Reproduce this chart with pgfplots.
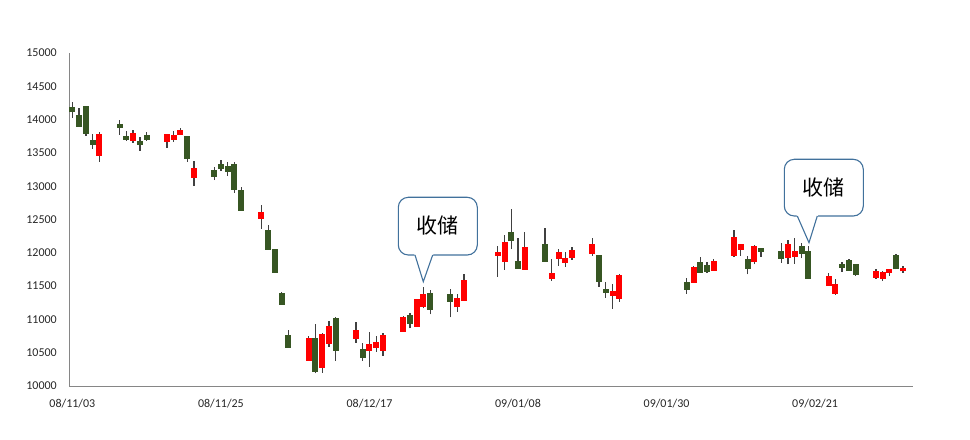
\documentclass[border=0pt]{standalone}
\usepackage{pgfplots}
\pgfplotsset{compat=1.18}
\usepackage{pgfplotstable}
\usepackage{fontspec}
\setmainfont{Carlito}
\newfontfamily\cjk{Noto Sans CJK SC}
\definecolor{upred}{HTML}{FF0000}
\definecolor{dngreen}{HTML}{375623}
\definecolor{wickc}{HTML}{404040}
\definecolor{axisc}{HTML}{868686}
\definecolor{callc}{HTML}{41719C}

% x = trading day (days since 2008-11-03), bl/bh = body low/high, wl/wh = wick low/high
\pgfplotstableread{
x bl bh wl wh
4 13458 13784 13368 13809
9 13683 13799 13653 13839
14 13668 13784 13578 13784
15 13698 13769 13668 13824
16 13773 13844 13773 13874
18 13128 13273 13003 13378
28 12512 12613 12362 12718
35 10380 10725 10380 10755
37 10275 10781 10200 10791
38 10631 10901 10590 10976
42 10710 10841 10650 10956
44 10530 10631 10290 10806
45 10575 10661 10515 10751
46 10530 10766 10455 10791
49 10815 11036 10815 11051
51 10890 11306 10890 11306
52 11186 11381 11167 11482
57 11182 11326 11116 11377
58 11281 11592 11281 11677
63 11956 12012 11641 12102
64 11866 12162 11742 12267
67 11742 12087 11742 12308
71 11607 11697 11581 11902
72 11907 12012 11806 12053
73 11851 11922 11791 12012
74 11926 12042 11896 12087
77 11986 12132 11956 12222
80 11356 11426 11161 11527
81 11311 11667 11266 11682
92 11551 11787 11551 11802
95 11731 11877 11731 11907
98 11956 12233 11941 12342
99 12047 12132 11956 12132
101 11866 12102 11827 12117
106 11926 12132 11827 12192
107 11941 12027 11836 12218
112 11506 11652 11506 11701
113 11386 11532 11371 11611
119 11626 11727 11607 11757
120 11611 11707 11581 11722
121 11701 11757 11656 11757
123 11722 11776 11701 11797
}\redT

\pgfplotstableread{
x bl bh wl wh
0 14119 14189 14029 14260
1 13893 14069 13893 14170
2 13788 14204 13758 14204
3 13623 13694 13563 13779
7 13878 13934 13769 13994
8 13698 13754 13683 13824
10 13623 13679 13533 13739
11 13698 13769 13683 13809
17 13413 13754 13368 13754
21 13143 13243 13093 13288
22 13258 13333 13228 13389
23 13218 13303 13153 13363
24 12947 13333 12902 13363
25 12632 12943 12632 12983
29 12047 12342 12047 12417
30 11701 12057 11701 12057
31 11221 11396 11221 11411
32 10575 10766 10575 10841
36 10215 10721 10191 10926
39 10530 11021 10380 11041
43 10425 10551 10380 10650
50 10935 11066 10866 11092
53 11146 11396 11077 11441
56 11266 11381 11032 11456
65 12177 12312 12057 12658
66 11757 11877 11757 12218
70 11866 12132 11866 12372
78 11566 11967 11491 11967
79 11401 11456 11326 11557
91 11446 11562 11386 11617
93 11701 11862 11701 11932
94 11716 11817 11701 11857
100 11761 11911 11677 11952
102 12017 12072 11941 12072
105 11911 12027 11851 12143
108 11986 12102 11917 12152
109 11611 12027 11611 12107
114 11776 11832 11712 11862
115 11731 11896 11731 11911
116 11667 11832 11652 11832
122 11752 11967 11752 11977
}\greenT

\begin{document}
\begin{tikzpicture}
\useasboundingbox (0bp,0bp) rectangle (970bp,440bp);
\begin{axis}[
  at={(69bp,54bp)}, anchor=south west, scale only axis,
  width=844bp, height=333bp,
  xmin=-0.5, xmax=124.5, ymin=10000, ymax=15000,
  axis x line=bottom, axis y line=left,
  axis line style={draw=axisc, line width=1bp, -},
  major tick length=0pt,
  scaled y ticks=false,
  ytick={10000,10500,...,15000},
  xtick={0,22,44,66,88,110},
  xticklabels={08/11/03,08/11/25,08/12/17,09/01/08,09/01/30,09/02/21},
  tick label style={font=\fontsize{12bp}{14bp}\selectfont, text=black!85, inner sep=0pt},
  yticklabel style={anchor=east, xshift=-12bp},
  xticklabel style={anchor=north, yshift=-13bp},
  clip=false,
  /pgf/number format/.cd, 1000 sep={}, assume math mode=true
]
% wicks
\addplot[draw=none, mark=none, forget plot,
  error bars/.cd, y dir=plus, y explicit, error mark=none,
  error bar style={draw=wickc, line width=1.3bp}]
  table[x=x, y=wl, y error expr=\thisrow{wh}-\thisrow{wl}] {\redT};
\addplot[draw=none, mark=none, forget plot,
  error bars/.cd, y dir=plus, y explicit, error mark=none,
  error bar style={draw=wickc, line width=1.3bp}]
  table[x=x, y=wl, y error expr=\thisrow{wh}-\thisrow{wl}] {\greenT};
% bodies
\addplot[draw=none, mark=none, forget plot,
  error bars/.cd, y dir=plus, y explicit, error mark=none,
  error bar style={draw=upred, line width=6bp}]
  table[x=x, y=bl, y error expr=\thisrow{bh}-\thisrow{bl}] {\redT};
\addplot[draw=none, mark=none, forget plot,
  error bars/.cd, y dir=plus, y explicit, error mark=none,
  error bar style={draw=dngreen, line width=6bp}]
  table[x=x, y=bl, y error expr=\thisrow{bh}-\thisrow{bl}] {\greenT};
\end{axis}
\begin{scope}[x=1bp,y=1bp]
% callout 1
\draw[callc, line width=1.1bp, rounded corners=10bp, fill=white] (398.3,185) rectangle (477.3,242.7);
\fill[white] (414.2,186.2) -- (423.3,158.3) -- (433.5,186.2) -- cycle;
\draw[callc, line width=1.1bp] (415,185) -- (423.3,158.3) -- (432.7,185);
\node[font=\cjk\fontsize{21bp}{24bp}\selectfont, text=black] at (437.8,214) {收储};
% callout 2
\draw[callc, line width=1.1bp, rounded corners=10bp, fill=white] (784.3,224) rectangle (863.3,280.7);
\fill[white] (796.5,225.2) -- (809,197.3) -- (818.1,225.2) -- cycle;
\draw[callc, line width=1.1bp] (797.3,224) -- (809,197.3) -- (817.3,224);
\node[font=\cjk\fontsize{21bp}{24bp}\selectfont, text=black] at (823.8,252.5) {收储};
\end{scope}
\end{tikzpicture}
\end{document}
